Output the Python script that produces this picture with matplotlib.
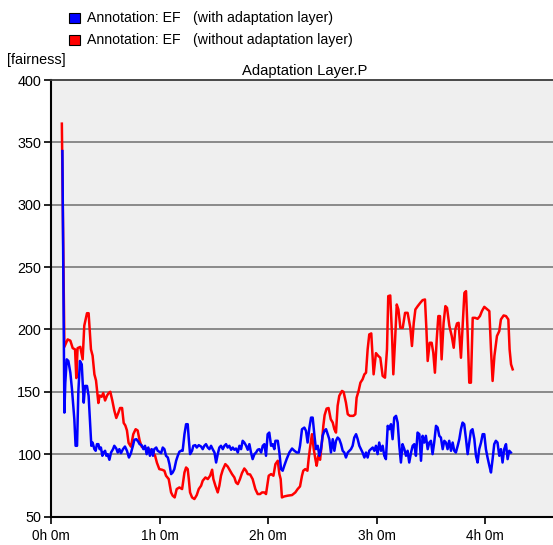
import matplotlib
matplotlib.use("Agg")
import matplotlib.pyplot as plt
from matplotlib.patches import Rectangle

# time in minutes, fairness values
red_t = [6.0, 7.4, 9.2, 10.7, 12.0, 13.3, 14.0, 14.7, 16.2, 17.5, 18.4, 19.9, 20.8, 22.1, 23.0, 24.0, 24.9,
         26.2, 26.9, 28.0, 28.9, 29.9, 31.0, 31.9, 32.8, 33.9, 35.0, 36.1, 37.2, 38.2, 39.3, 40.2, 41.1,
         42.0, 42.9, 44.2, 45.5, 46.8, 47.9, 49.0, 50.1, 52.0, 53.8, 55.7, 57.5, 58.6, 59.9,
         61.4, 62.7, 63.6, 65.1, 66.4, 67.3, 68.4, 69.5, 71.0, 72.5, 73.8, 74.7, 75.6, 76.2, 76.9, 78.0,
         79.3, 80.6, 81.7, 83.0, 83.9, 85.4, 86.7, 88.0, 89.1, 89.8, 90.9, 92.2, 93.1, 94.0, 95.0, 96.4,
         97.7, 99.0, 100.1, 101.4, 102.3, 103.3, 104.5, 105.6, 106.9, 107.9, 108.8, 110.1, 111.5, 113.0,
         114.3, 115.6, 116.7, 118.0, 118.9, 120.4, 121.7, 123.0, 124.1, 125.4, 126.3, 127.0, 127.7, 129.0,
         130.9, 133.3, 135.1, 136.4, 137.7, 138.8, 139.5, 140.6, 141.8, 142.5, 143.4, 144.3, 145.3, 146.2,
         146.9, 147.8, 148.8, 149.9, 150.6, 151.3, 152.4, 153.5, 154.7, 155.8, 156.7, 157.6, 158.5, 159.4,
         160.9, 161.8, 163.1, 164.1, 165.3, 167.2, 168.3, 169.0, 170.1, 171.1, 172.3, 173.3, 174.2, 175.1,
         176.0, 177.1, 178.4, 179.7, 181.0, 182.1, 183.4, 184.7, 185.8, 186.5, 187.6, 188.6, 189.3, 190.2,
         191.2, 192.1, 193.2, 194.5, 195.8, 197.2, 198.7, 199.6, 200.6, 201.5, 202.8, 204.2, 205.5, 206.8,
         207.6, 208.3, 209.4, 210.5, 211.4, 212.3, 213.3, 214.2, 215.1, 216.0, 217.1, 218.1, 219.0, 220.3,
         221.6, 222.7, 223.6, 224.5, 225.4, 226.7, 227.6, 228.6, 229.5, 230.4, 231.3, 232.2, 233.2, 234.5,
         235.9, 237.2, 238.3, 239.6, 240.9, 242.4, 243.3, 244.2, 245.2, 246.6, 247.9, 248.8, 250.3, 251.6,
         252.9, 253.6, 254.4, 255.3]
red_v = [365, 186, 192, 191, 185, 184, 161, 185, 186, 176, 203, 213, 213, 184, 179, 164, 159,
         141, 147, 146, 149, 143, 147, 149, 150, 143, 135, 129, 133, 137, 137, 125, 123,
         119, 109, 106, 116, 120, 119, 111, 106, 105, 104, 103, 99, 93, 88,
         87.5, 86.7, 82.7, 80, 69.3, 66.7, 65.3, 72, 73.3, 72, 85.3, 89.3, 88, 80, 69.3, 65.3,
         64, 67.2, 72, 74.7, 78.7, 81.3, 80, 82.7, 87.5, 80, 74.7, 69.3, 74.7, 82.7, 87.5, 92,
         90.1, 86.7, 84, 81.3, 77.3, 76, 80, 84.8, 88.5, 86.7, 84, 83.7, 80, 72,
         68, 68, 69.3, 69.3, 68, 82.7, 84, 82.7, 92, 94.7, 84, 80, 65.3, 66.1,
         66.7, 67.2, 69.3, 72, 74.1, 82.7, 86.7, 88, 86.7, 96.5, 106.7, 116, 104, 96,
         90.7, 98.7, 95.5, 110.7, 122.7, 131.2, 136.5, 137, 128, 125.3, 120, 117.3, 138.7, 146.7,
         150.7, 149.9, 141.3, 132, 130.7, 130.7, 132, 145.3, 150.7, 157.3, 160, 164, 165.3, 184,
         196, 196.8, 164, 181, 178.7, 177.3, 162.7, 161.3, 184, 226.7, 227.2, 194.7, 164, 189.3,
         220, 216, 201.3, 201.3, 213.3, 213.3, 201.3, 186.7, 205.3, 216, 218.7, 221.3, 223.5, 224,
         200, 174.7, 189.3, 189.3, 181.3, 165.3, 192, 210.7, 210.7, 176, 205.3, 218.7, 217.3, 202.7,
         194.7, 185.3, 200, 204.8, 205.3, 177.3, 202.7, 229.3, 230.7, 197.3, 157.3, 157.3, 209.3, 209.3,
         208.5, 210.7, 214.7, 218.1, 216.5, 214.7, 184, 158.7, 178.7, 194.7, 198.7, 208, 211.2, 210.7,
         208, 184, 172, 168]

blue_t = [6.3, 7.4, 7.9, 8.7, 9.6, 10.7, 11.6, 12.9, 13.6, 14.4, 15.1, 16.0, 17.0, 18.1, 18.8, 19.9,
          20.8, 21.6, 22.3, 23.0, 24.0, 24.7, 25.4, 26.2, 26.9, 27.6, 28.4, 29.1, 29.9, 30.6, 31.3, 32.3,
          33.2, 34.3, 35.0, 36.1, 36.9, 37.8, 38.7, 39.8, 40.9, 42.0, 43.1, 44.2, 45.3, 46.1, 47.2, 48.3,
          49.0, 50.1, 51.1, 52.0, 52.9, 53.8, 54.7, 55.7, 56.4, 57.1, 58.2, 59.0, 59.9,
          60.9, 61.8, 62.7, 63.6, 64.6, 65.5, 66.4, 67.3, 68.2, 69.2, 70.1, 71.0, 71.9, 72.8, 73.8, 74.7,
          75.6, 76.2, 76.9, 78.0, 78.7, 79.8, 80.6, 81.7, 83.0, 83.9, 84.8, 85.7, 86.7, 87.6, 88.5, 89.4,
          90.4, 91.3, 92.2, 93.1, 94.0, 95.0, 95.9, 96.8, 97.7, 98.6, 99.6, 100.5, 101.4, 102.3, 103.3,
          104.2, 105.1, 106.0, 106.9, 107.9, 108.8, 109.7, 110.6, 111.5, 112.5, 113.4, 114.3, 115.2, 116.2,
          117.1, 118.0, 118.9, 119.8, 120.7, 121.7, 122.6, 123.5, 124.1, 125.4, 126.3, 127.2, 128.1, 129.0,
          130.3, 131.8, 133.3, 134.6, 135.9, 137.0, 137.7, 138.8, 140.1, 141.0, 141.9, 142.9, 143.8, 144.7,
          145.6, 146.5, 147.5, 148.4, 149.3, 150.2, 151.2, 152.1, 153.0, 153.9, 154.8, 155.8, 156.7, 157.6,
          158.5, 159.4, 160.4, 161.3, 162.2, 163.1, 164.1, 165.0, 165.9, 166.8, 167.7, 168.7, 169.6, 170.5,
          171.4, 172.3, 173.3, 174.2, 175.1, 176.0, 176.9, 177.9, 178.8, 179.7, 180.6, 181.5, 182.5, 183.4,
          184.3, 185.2, 186.2, 187.1, 188.0, 188.9, 189.8, 190.8, 191.7, 192.6, 193.5, 194.4, 195.4, 196.3,
          197.2, 198.1, 199.1, 200.0, 200.9, 201.8, 202.7, 203.7, 204.6, 205.5, 206.4, 207.3, 208.3, 209.2,
          210.1, 211.0, 211.9, 212.9, 213.8, 214.7, 215.6, 216.6, 217.5, 218.4, 219.3, 220.2, 221.2, 222.1,
          223.0, 223.9, 224.9, 225.8, 226.7, 227.6, 228.5, 229.5, 230.4, 231.3, 232.2, 233.1, 234.1, 235.0,
          235.9, 236.8, 237.8, 238.7, 239.6, 240.5, 241.4, 242.4, 243.3, 244.2, 245.1, 246.0, 246.9, 247.9,
          248.8, 249.7, 250.6, 251.6, 252.5, 253.4, 254.3]
blue_v = [343, 133.3, 157, 176, 174.7, 165.3, 152, 128, 106.7, 106.7, 149.3, 174.7, 172, 141.3, 154.7, 154.7,
          146.7, 125.3, 106.7, 109.3, 104, 102.7, 108, 108, 104, 105.3, 98.7, 101.3, 102.7, 98.7, 100, 95.5,
          101.3, 104, 106.7, 104.5, 101.3, 104, 100.8, 104, 106.1, 102.7, 97.3, 100.8, 106.7, 111.5, 112, 109.9,
          108, 107.2, 104, 106.7, 100, 105.3, 98.7, 104, 98.7, 104, 105.3, 102.7, 101.9,
          100.8, 105.3, 104, 98.7, 97.3, 92, 84, 85.3, 88, 94.7, 98.7, 101.9, 102.7, 102.7, 116, 124,
          124, 112, 100, 102.7, 106.7, 107.2, 105.3, 107.2, 106.1, 104, 106.7, 108, 105.3, 104, 106.7, 104,
          101.3, 93.3, 100, 105.3, 106.7, 104, 106.7, 108, 105.3, 106.7, 103.5, 105.3, 103.5, 104.5, 101.3,
          106.7, 104, 110.7, 109.3, 106.7, 103.5, 108, 101.3, 96, 100, 101.3, 103.5, 104, 101.3,
          106.7, 108, 98.7, 116, 117.3, 106.7, 108, 104, 110.7, 110.7, 101.3, 88, 86.7, 90.7,
          96, 101.3, 104.5, 102.7, 101.3, 101.3, 106.7, 120, 121.3, 118.7, 109.3, 121.3, 129.3, 129.3,
          116, 104, 106.7, 98.7, 104, 114.7, 118.7, 120, 116, 112, 101.3, 112, 102.7, 110.7,
          113.3, 112, 108, 102.7, 101.3, 97.3, 101.3, 102.7, 104, 106.7, 113.3, 116, 112, 106.7,
          104, 101.3, 97.3, 101.3, 97.3, 102.7, 104, 105.3, 102.7, 106.7, 100, 109.3, 102.7, 106.7,
          98.7, 96, 122.7, 120, 124, 112, 129.3, 130.7, 125.3, 106.7, 93.3, 108, 104, 98.7,
          102.7, 93.3, 101.3, 106.7, 108, 98.7, 117.3, 116, 94.7, 114.7, 109.3, 114.7, 104, 109.3,
          110.7, 100, 109.3, 122.7, 121.3, 114.7, 113.3, 104, 110.7, 109.3, 104, 110.7, 102.7, 109.3,
          102.7, 101.3, 106.7, 112, 120, 125.3, 124, 112, 100, 109.3, 118.7, 120, 112, 98.7,
          93.3, 104, 109.3, 116, 116, 104, 97.3, 90.7, 85.3, 96, 108, 110.7, 109.3, 98.7,
          104, 93.3, 104, 108, 96, 102.7, 101.3]

xticks = [0, 60, 120, 180, 240]
xtick_labels = ["0h 0m", "1h 0m", "2h 0m", "3h 0m", "4h 0m"]
yticks = [50, 100, 150, 200, 250, 300, 350, 400]
series_names = ["Annotation: EF", "Annotation: EF"]
series_notes = ["(with adaptation layer)", "(without adaptation layer)"]
blue_c = "#0000ff"
red_c = "#ff0000"

plt.rcParams['font.family'] = ['Liberation Sans', 'DejaVu Sans']

fig = plt.figure(figsize=(5.53, 5.45), dpi=100)
W, H = 553, 545
ax = fig.add_axes([51 / W, 1 - 516.5 / H, (W - 51) / W, (516.5 - 80) / H])
ax.set_facecolor("#efefef")

ax.plot(red_t, red_v, color=red_c, lw=1.8, zorder=3, solid_joinstyle='round')
ax.plot(blue_t, blue_v, color=blue_c, lw=1.8, zorder=4, solid_joinstyle='round')

ax.set_xlim(0, 277.6)
ax.set_ylim(50, 400)
ax.set_xticks(xticks)
ax.set_xticklabels(xtick_labels)
ax.set_yticks(yticks)
ax.set_yticklabels([str(v) for v in yticks])
ax.tick_params(direction='out', length=5, width=1.2, colors='black')
ax.tick_params(axis='x', labelsize=9.8, pad=4)
ax.tick_params(axis='y', labelsize=10.4, pad=2)
for v in yticks[1:-1]:
    ax.axhline(v, color="#8a8a8a", lw=1.4, zorder=1)
ax.spines['left'].set_linewidth(1.5)
ax.spines['bottom'].set_linewidth(1.5)
ax.spines['top'].set_linewidth(1.3)
ax.spines['top'].set_color("#3a3a3a")
ax.spines['right'].set_visible(False)

fig.text(7 / W, 1 - 60 / H, "[fairness]", fontsize=10.4, ha='left', va='center')
fig.text(305 / W, 1 - 71 / H, "Adaptation Layer.P", fontsize=10.6, ha='center', va='center')

for i, (name, note, c) in enumerate(zip(series_names, series_notes, [blue_c, red_c])):
    yc = 17.5 + 22 * i
    fig.patches.append(Rectangle((69 / W, 1 - (yc + 5) / H), 11 / W, 10 / H,
                                 transform=fig.transFigure, facecolor=c, edgecolor='black', lw=0.8))
    fig.text(87 / W, 1 - (yc + 4.5) / H, name, fontsize=10.2, ha='left', va='baseline')
    fig.text(193 / W, 1 - (yc + 4.5) / H, note, fontsize=10.2, ha='left', va='baseline')

fig.savefig("out.png", dpi=100)
